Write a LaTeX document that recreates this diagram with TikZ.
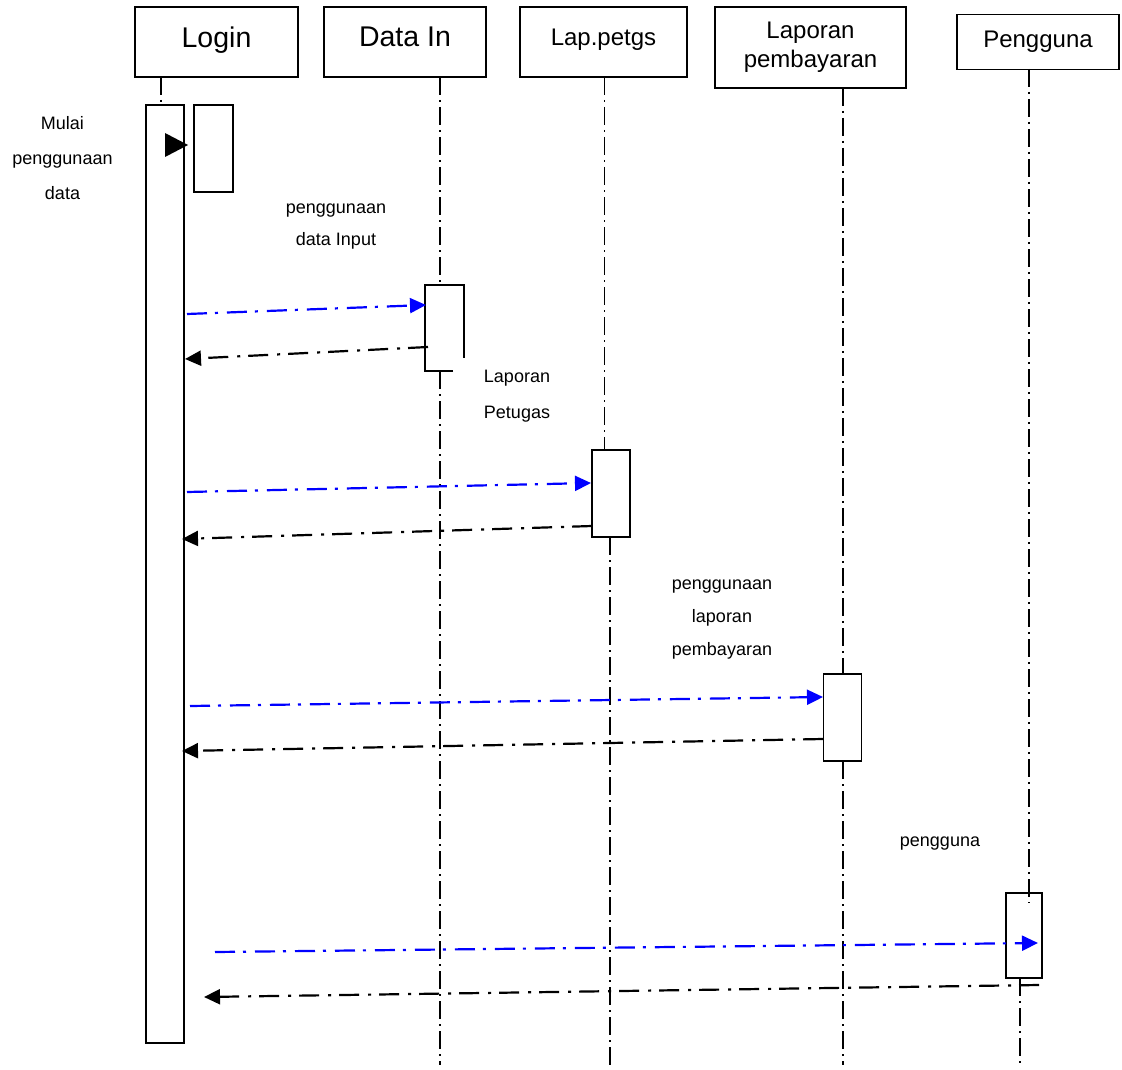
\documentclass[tikz,border=0pt]{standalone}
\usepackage{fontspec}
\setmainfont{Liberation Sans}
\usetikzlibrary{arrows.meta}
\begin{document}
\begin{tikzpicture}[x=1pt,y=-1pt,
  hdr/.style={draw, line width=1.5pt, inner sep=0pt, align=center, font=\fontsize{24}{29}\selectfont},
  act/.style={draw, fill=white, line width=1.5pt, inner sep=0pt, minimum width=38pt, minimum height=87pt},
  life/.style={line width=1.8pt, dash pattern=on 18pt off 5pt on 2pt off 5pt},
  msg/.style={draw=blue, line width=2.2pt, dash pattern=on 20pt off 8pt on 3pt off 9pt, -{Triangle[length=16pt,width=15pt]}},
  ret/.style={draw=black, line width=2.2pt, dash pattern=on 20pt off 8pt on 3pt off 9pt, -{Triangle[length=16pt,width=15pt]}},
  lbl/.style={align=center, inner sep=0pt, anchor=base}
]
\useasboundingbox (0,0) rectangle (1122,1070);

% headers
\node[hdr, minimum width=163pt, minimum height=70pt, text depth=10.4pt, font=\fontsize{28.5}{30}\selectfont] (login) at (216.5,42) {Login};
\node[hdr, minimum width=162pt, minimum height=70pt, text depth=10.4pt, font=\fontsize{28.5}{30}\selectfont] (datain) at (405,42) {Data In};
\node[hdr, minimum width=167pt, minimum height=70pt, text depth=10pt] (lappet) at (603.5,42) {Lap.petgs};
\node[hdr, minimum width=191pt, minimum height=81pt] (lapbay) at (810.5,47.5) {Laporan\\pembayaran};
\node[hdr, minimum width=162pt, minimum height=55pt] (peng) at (1038,42) {Pengguna};

% lifelines
\coordinate (lL) at (161,77);
\draw[life] (lL) -- (161,105);
\draw[life] (440,77) -- (440,285);
\draw[life] (440,371) -- (440,1065);
\draw[life] (604.5,77) -- (604.5,450);
\draw[life] (610,537) -- (610,1065);
\draw[life] (843,88) -- (843,674);
\draw[life] (843,761) -- (843,1065);
\draw[life] (1020,978) -- (1020,1065);

% activation boxes
\node[act, minimum height=938pt] (actL) at (165,574) {};
\node[act, minimum width=39pt] (actS) at (213.5,148.5) {};
\node[act] (actP) at (611,493.5) {};
\node[act] (actR) at (842.5,717.5) {};
\node[act, minimum width=36pt, minimum height=85pt] (actU) at (1024,935.5) {};
\draw[life] (1029,69) -- (1029,903);
\draw[line width=1.5pt] (453,371) -- (425,371) -- (425,285) -- (464,285) -- (464,358);
\draw[line width=1.8pt] (1020,978) -- (1020,985) -- (1039,985);

% start triangle
\fill (165,133) -- (188,145) -- (165,157) -- cycle;

% messages
\coordinate (a1s) at (187,314); \coordinate (a1e) at (426,305);
\coordinate (r1s) at (428,347); \coordinate (r1e) at (185,359);
\coordinate (a2s) at (187,492); \coordinate (a2e) at (591,483);
\coordinate (r2s) at (592,526); \coordinate (r2e) at (182,539);
\coordinate (a3s) at (190,706); \coordinate (a3e) at (823,697);
\coordinate (r3s) at (823,739); \coordinate (r3e) at (182,751);
\coordinate (a4s) at (215,952); \coordinate (a4e) at (1038,943);
\coordinate (r4s) at (1039,985); \coordinate (r4e) at (204,997);
\draw[msg] (a1s) -- (a1e);
\draw[ret] (r1s) -- (r1e);
\draw[msg] (a2s) -- (a2e);
\draw[ret] (r2s) -- (r2e);
\draw[msg] (a3s) -- (a3e);
\draw[ret] (r3s) -- (r3e);
\draw[msg] (a4s) -- (a4e);
\draw[ret] (r4s) -- (r4e);

% labels (anchor base = baseline of last line)
\node[lbl, font=\fontsize{18}{35.2}\selectfont] (t1) at (62.5,200) {Mulai\\penggunaan\\data};
\node[lbl, font=\fontsize{18}{32}\selectfont] (t2) at (336,245) {penggunaan\\data Input};
\node[lbl, font=\fontsize{18}{35.6}\selectfont] (t3) at (517,418.3) {Laporan\\Petugas};
\node[lbl, font=\fontsize{18}{33.2}\selectfont] (t4) at (722,655.7) {penggunaan\\laporan\\pembayaran};
\node[lbl, font=\fontsize{18}{20}\selectfont] (t5) at (940,846.7) {pengguna};
\end{tikzpicture}
\end{document}
